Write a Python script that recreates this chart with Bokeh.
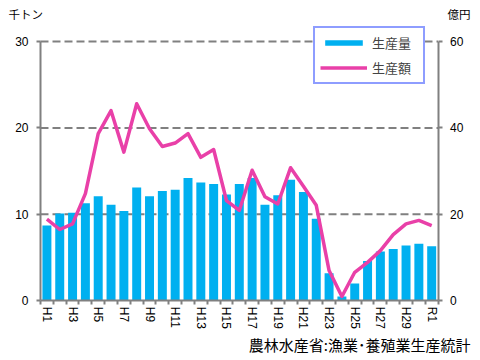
import math
from bokeh.plotting import figure
from bokeh.models import Range1d, LinearAxis, FixedTicker, Label, Legend, LegendItem, ColumnDataSource
from bokeh.embed import file_html
from bokeh.resources import INLINE

years = ["H1", "H2", "H3", "H4", "H5", "H6", "H7", "H8", "H9", "H10",
         "H11", "H12", "H13", "H14", "H15", "H16", "H17", "H18", "H19", "H20",
         "H21", "H22", "H23", "H24", "H25", "H26", "H27", "H28", "H29", "H30", "R1"]
volume_kt = [8.7, 10.1, 10.2, 11.3, 12.1, 11.1, 10.4, 13.1, 12.1, 12.7,
             12.85, 14.2, 13.7, 13.5, 12.3, 13.5, 14.2, 11.1, 12.2, 14.0,
             12.6, 9.5, 3.2, 0.5, 2.0, 4.6, 5.7, 6.0, 6.4, 6.6, 6.3]
value_oku = [18.9, 16.5, 17.8, 24.8, 38.7, 44.0, 34.4, 45.6, 39.8, 35.7,
             36.5, 38.7, 33.2, 35.0, 23.2, 20.9, 30.2, 24.1, 22.4, 30.8,
             26.5, 22.1, 7.0, 1.0, 6.6, 8.9, 11.6, 15.3, 17.8, 18.6, 17.4]
left_ticks = [0, 10, 20, 30]
right_ticks = [0, 20, 40, 60]

JP = "Noto Sans CJK JP"
NUM = "Liberation Sans"
GRAY = "#808080"
BLUE = "#00B0F0"
PINK = "#E940A8"

# page layout (pixels) of the plotting area
W, H = 480, 360
FL, FR, FT, FB = 40.0, 437.6, 41.0, 300.3
n = len(years)
LMAX = left_ticks[-1]
RMAX = right_ticks[-1]
sx = (FR - FL) / n
sy = (FB - FT) / LMAX

def px2x(px):
    return 0.5 + (px - FL) / sx

def py2y(py):
    return (FB - py) / sy

xs = list(range(1, n + 1))
src = ColumnDataSource(dict(x=xs, vol=volume_kt, val=value_oku))

p = figure(width=W, height=H,
           x_range=Range1d(px2x(0), px2x(W)),
           y_range=Range1d(py2y(H), py2y(0)),
           output_backend="svg", toolbar_location=None,
           min_border_left=0, min_border_right=0, min_border_top=0, min_border_bottom=0)
p.extra_y_ranges = {"right": Range1d(py2y(H) * RMAX / LMAX, py2y(0) * RMAX / LMAX)}
p.outline_line_color = None
p.background_fill_color = "white"
p.border_fill_color = "white"
p.xgrid.visible = False
p.ygrid.visible = False

# dashed gridlines at the left-axis ticks (above zero)
gt = left_ticks[1:]
p.segment(x0=[0.5] * len(gt), x1=[n + 0.5] * len(gt), y0=gt, y1=gt,
          line_color=GRAY, line_width=2, line_dash="8 4")

bars = p.vbar(x="x", top="vol", width=0.7, source=src, fill_color=BLUE, line_color=None)
line = p.line(x="x", y="val", source=src, y_range_name="right", line_color=PINK,
              line_width=3.5, line_join="round")

# x axis
xa = p.xaxis[0]
xa.fixed_location = 0
xa.bounds = (0.5, n + 0.5)
xa.ticker = FixedTicker(ticks=xs[::2], minor_ticks=[i + 0.5 for i in range(0, n + 1)])
xa.major_label_overrides = {i: years[i - 1] for i in xs[::2]}
xa.major_label_orientation = -math.pi / 2
xa.major_tick_line_color = None
xa.major_tick_out = 4
xa.major_tick_in = 0
xa.minor_tick_line_color = GRAY
xa.minor_tick_line_width = 2
xa.minor_tick_out = 4
xa.minor_tick_in = 0
xa.major_label_standoff = 2

# left axis
ya = p.yaxis[0]
ya.fixed_location = 0.5
ya.bounds = (0, LMAX)
ya.ticker = FixedTicker(ticks=left_ticks)
ya.minor_tick_line_color = None
ya.major_tick_in = 0
ya.major_tick_out = 4
ya.major_label_standoff = 8

ra = LinearAxis(y_range_name="right", ticker=FixedTicker(ticks=right_ticks))
ra.fixed_location = n + 0.5
ra.bounds = (0, RMAX)
ra.minor_tick_line_color = None
ra.major_tick_in = 0
ra.major_tick_out = 4
ra.major_label_standoff = 8
p.add_layout(ra, "right")

for ax in (xa, ya, ra):
    ax.axis_line_color = GRAY
    ax.axis_line_width = 2
    ax.major_tick_line_width = 2
    ax.major_label_text_font = NUM
    ax.major_label_text_font_size = "12px"
    ax.major_label_text_color = "black"
ya.major_tick_line_color = GRAY
ra.major_tick_line_color = GRAY

# unit labels and source
p.add_layout(Label(x=px2x(8), y=py2y(13.5), text="千トン", text_font=JP, text_font_size="11.5px",
                   text_baseline="middle", text_align="left", text_color="black"))
p.add_layout(Label(x=px2x(447), y=py2y(13.5), text="億円", text_font=JP, text_font_size="11.5px",
                   text_baseline="middle", text_align="left", text_color="black"))
p.add_layout(Label(x=px2x(470), y=py2y(343.5), text="農林水産省:漁業･養殖業生産統計", text_font=JP,
                   text_font_size="15px", text_baseline="middle", text_align="right",
                   text_color="black"))

legend = Legend(items=[LegendItem(label="生産量", renderers=[bars]),
                       LegendItem(label="生産額", renderers=[line])],
                location=(313, H - 84))
legend.border_line_color = "#1E3CFF"
legend.border_line_width = 2
legend.padding = 5
legend.spacing = 6
legend.margin = 0
legend.glyph_width = 47
legend.glyph_height = 7
legend.label_standoff = 5
legend.label_width = 46
legend.label_text_font = JP
legend.label_text_font_size = "13px"
legend.background_fill_color = "white"
legend.background_fill_alpha = 1
p.add_layout(legend)

open("out.html", "w").write(file_html(p, INLINE))
